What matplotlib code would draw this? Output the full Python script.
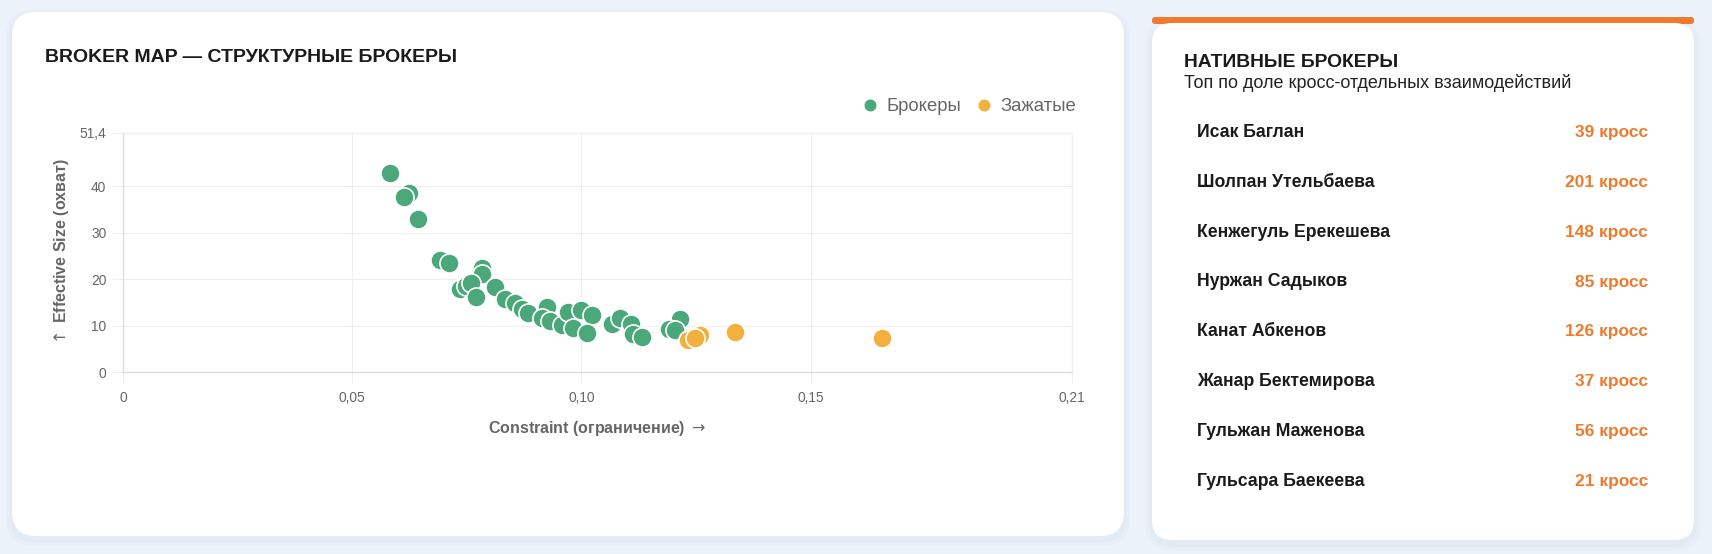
import matplotlib
matplotlib.use('Agg')
import matplotlib.pyplot as plt
from matplotlib.patches import FancyBboxPatch
from matplotlib.lines import Line2D

plt.rcParams['font.family'] = ['Liberation Sans', 'DejaVu Sans']

# constraint (x) / effective size (y) for each node
brokers_x = [0.0583, 0.0623, 0.0612, 0.0643, 0.0692, 0.0712, 0.0782, 0.0782,
             0.0735, 0.0748, 0.0760, 0.0771, 0.0811, 0.0833, 0.0855, 0.0870,
             0.0884, 0.0924, 0.0913, 0.0931, 0.0958, 0.0971, 0.0982, 0.0998,
             0.1022, 0.1013, 0.1066, 0.1083, 0.1109, 0.1113, 0.1133, 0.1215,
             0.1190, 0.1204]
brokers_y = [42.8, 38.4, 37.7, 33.0, 24.0, 23.4, 22.3, 21.0,
             17.8, 18.6, 19.1, 16.1, 18.3, 15.6, 14.9, 13.6,
             12.6, 14.0, 11.7, 10.9, 10.2, 12.8, 9.5, 13.3,
             12.2, 8.4, 10.4, 11.7, 10.3, 8.2, 7.6, 11.4,
             9.3, 9.1]
squeezed_x = [0.1232, 0.1258, 0.1247, 0.1336, 0.1656]
squeezed_y = [6.9, 8.0, 7.4, 8.7, 7.3]

x_max = 0.207
y_max = 51.4
x_ticks = [0, 0.05, 0.10, 0.15, x_max]
x_tick_labels = ['0', '0,05', '0,10', '0,15', '0,21']
y_ticks = [0, 10, 20, 30, 40, y_max]
y_tick_labels = ['0', '10', '20', '30', '40', '51,4']

names = ['Исак Баглан', 'Шолпан Утельбаева', 'Кенжегуль Ерекешева', 'Нуржан Садыков',
         'Канат Абкенов', 'Жанар Бектемирова', 'Гульжан Маженова', 'Гульсара Баекеева']
cross = [39, 201, 148, 85, 126, 37, 56, 21]

GREEN = '#4aa87a'
YELLOW = '#f2b03f'
ORANGE = '#ef7a2e'
BG = '#ecf2fa'
W, H = 1712, 554

fig = plt.figure(figsize=(W / 100, H / 100), dpi=100, facecolor=BG)

# background layer in pixel coordinates
bg = fig.add_axes([0, 0, 1, 1], zorder=0)
bg.set_xlim(0, W)
bg.set_ylim(H, 0)
bg.axis('off')

def card(x0, y0, x1, y1, color, r):
    bg.add_patch(FancyBboxPatch((x0, y0), x1 - x0, y1 - y0,
                                boxstyle=f'round,pad=0,rounding_size={r}',
                                facecolor=color, edgecolor='none'))

# soft shadows
for d, a in [(6, 0.25), (3, 0.35)]:
    bg.add_patch(FancyBboxPatch((12 - d, 12 - d + 4), 1112 + 2 * d, 524 + 2 * d,
                                boxstyle='round,pad=0,rounding_size=28',
                                facecolor='#dbe4f0', edgecolor='none', alpha=a))
    bg.add_patch(FancyBboxPatch((1152 - d, 23 - d + 4), 542 + 2 * d, 517 + 2 * d,
                                boxstyle='round,pad=0,rounding_size=24',
                                facecolor='#dbe4f0', edgecolor='none', alpha=a))
card(12, 12, 1124, 536, 'white', 24)
card(1152, 17, 1694, 24, ORANGE, 3)
card(1152, 23, 1694, 540, 'white', 20)

bg.text(45, 62.3, 'BROKER MAP — СТРУКТУРНЫЕ БРОКЕРЫ', fontsize=14,
        fontweight='bold', color='#1a1a1a', va='baseline')
bg.text(1184, 67.3, 'НАТИВНЫЕ БРОКЕРЫ', fontsize=13.9, fontweight='bold',
        color='#1a1a1a', va='baseline')
bg.text(1184, 88.3, 'Топ по доле кросс-отдельных взаимодействий', fontsize=13,
        color='#222222', va='baseline')
for i, (n, c) in enumerate(zip(names, cross)):
    yy = 132.3 + i * 49.9
    bg.text(1197, yy, n, fontsize=12.7, fontweight='bold', color='#1a1a1a', va='center')
    bg.text(1648, yy, f'{c} кросс', fontsize=12.5, fontweight='bold', color=ORANGE,
            va='center', ha='right')

# scatter chart
ax = fig.add_axes([123 / W, 1 - 372 / H, (1072 - 123) / W, (372 - 133) / H], zorder=1)
ax.set_facecolor('white')
ax.scatter(brokers_x, brokers_y, s=190, c=GREEN, edgecolors='white',
           linewidths=1.2, zorder=3, clip_on=False)
ax.scatter(squeezed_x, squeezed_y, s=190, c=YELLOW, edgecolors='white',
           linewidths=1.2, zorder=3, clip_on=False)
ax.set_xlim(0, x_max)
ax.set_ylim(0, y_max)
ax.set_xticks(x_ticks)
ax.set_xticklabels(x_tick_labels)
ax.set_yticks(y_ticks)
ax.set_yticklabels(y_tick_labels)
ax.grid(True, color='#efefef', linewidth=0.8, zorder=0)
ax.set_axisbelow(True)
for side, sp in ax.spines.items():
    sp.set_color('#dedede' if side in ('left', 'bottom') else '#efefef')
    sp.set_linewidth(1.0)
ax.tick_params(axis='both', length=8, color='#efefef', labelcolor='#666666',
               labelsize=9.9)
ax.tick_params(axis='x', pad=6)
ax.tick_params(axis='y', pad=4)
ax.set_xlabel('Constraint (ограничение) $\\rightarrow$', fontsize=11.5, fontweight='bold',
              color='#666666', labelpad=10)
ax.set_ylabel('$\\uparrow$ Effective Size (охват)', fontsize=11.5, fontweight='bold',
              color='#666666', labelpad=6)

handles = [Line2D([], [], marker='o', linestyle='none', markersize=8.6,
                  markerfacecolor=GREEN, markeredgecolor='none', label='Брокеры'),
           Line2D([], [], marker='o', linestyle='none', markersize=8.6,
                  markerfacecolor=YELLOW, markeredgecolor='none', label='Зажатые')]
leg = ax.legend(handles=handles, loc='center right', ncol=2, frameon=False,
                bbox_to_anchor=(1076 / W, 1 - 106.7 / H), bbox_transform=fig.transFigure,
                fontsize=13.3, handlelength=1.0, handletextpad=0.4,
                columnspacing=0.7, borderpad=0, borderaxespad=0)
for t in leg.get_texts():
    t.set_color('#666666')

fig.savefig('out.png', dpi=100, facecolor=BG)
